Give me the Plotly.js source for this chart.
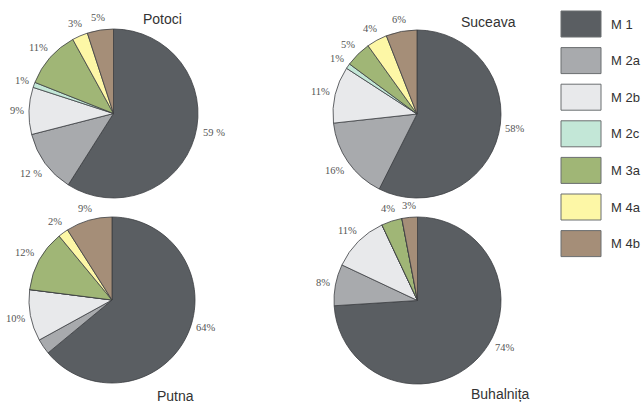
<!DOCTYPE html>
<html>
<head>
<meta charset="utf-8">
<script src="https://cdn.plot.ly/plotly-3.0.1.min.js"></script>
<style>
  html, body { margin: 0; padding: 0; background: #ffffff; }
  #chart { width: 642px; height: 404px; }
</style>
</head>
<body>
<div id="chart"></div>
<script>
// Morphotype categories and their fill colours
const categories = ['M 1', 'M 2a', 'M 2b', 'M 2c', 'M 3a', 'M 4a', 'M 4b'];
const colors = ['#5a5e62', '#a8aaad', '#e8e9eb', '#c3e7d7', '#a0b676', '#fdf7a6', '#a58e78'];

// Percentage shares per site (order follows categories)
const potoci    = [59, 12, 9, 1, 11, 3, 5];
const suceava   = [58, 16, 11, 1, 5, 4, 6];
const putna     = [64, 3, 10, 0, 12, 2, 9];
const buhalnita = [74, 8, 11, 0, 4, 0, 3];

// Which slices carry a percentage label
const potociShow    = [1, 1, 1, 1, 1, 1, 1];
const suceavaShow   = [1, 1, 1, 1, 1, 1, 1];
const putnaShow     = [1, 0, 1, 0, 1, 1, 1];
const buhalnitaShow = [1, 1, 1, 0, 1, 0, 1];

// Potoci's two largest labels are typeset with a space before the sign
const potociSep = [' ', ' ', '', '', '', '', ''];

const siteNames = ['Potoci', 'Suceava', 'Putna', 'Buhalni\u021Ba'];

function labelsFor(vals, show, sep) {
  return vals.map((v, i) => (show[i] && v > 0) ? v + ((sep && sep[i]) || '') + '%' : '');
}

const W = 642, H = 404;
// pie boxes in pixels: [left, top, size]
const boxes = [
  [29, 29, 169],
  [333, 30, 168],
  [29, 217, 166],
  [334, 217, 167]
];

function domainOf(b) {
  const [l, t, s] = b;
  return { x: [l / W, (l + s) / W], y: [1 - (t + s) / H, 1 - t / H] };
}

const series = [
  [potoci, potociShow, potociSep],
  [suceava, suceavaShow, null],
  [putna, putnaShow, null],
  [buhalnita, buhalnitaShow, null]
];

const traces = series.map((s, k) => ({
  type: 'pie',
  labels: categories,
  values: s[0],
  textinfo: 'none',
  sort: false,
  direction: 'clockwise',
  rotation: 0,
  hole: 0,
  marker: { colors: colors, line: { color: '#3c3f42', width: 0.8 } },
  domain: domainOf(boxes[k]),
  showlegend: false,
  hoverinfo: 'label+percent'
}));

const annotations = [];

// Percentage labels set just outside each slice, along its mid-angle;
// labels on the right-hand side are drawn in toward the horizontal midline
const labelFont = { family: 'Liberation Serif, Times New Roman, serif', size: 10.5, color: '#555555' };
series.forEach((s, k) => {
  const vals = s[0];
  const texts = labelsFor(vals, s[1], s[2]);
  const total = vals.reduce((a, b) => a + b, 0);
  const [l, t, size] = boxes[k];
  const cx = l + size / 2, cy = t + size / 2, r = size / 2;
  let cum = 0;
  vals.forEach((v, i) => {
    let mid = 2 * Math.PI * (cum + v / 2) / total;
    cum += v;
    if (!texts[i]) return;
    if (Math.sin(mid) > 0) mid = Math.PI / 2 + (mid - Math.PI / 2) * 0.65;
    const sx = Math.sin(mid), sy = -Math.cos(mid);
    const halfW = texts[i].length * 2.7, halfH = 5.5;
    const d = r + 6 + halfW * Math.abs(sx) + halfH * Math.abs(sy);
    annotations.push({
      text: texts[i], xref: 'paper', yref: 'paper',
      x: (cx + d * sx) / W, y: 1 - (cy + d * sy) / H,
      xanchor: 'center', yanchor: 'middle', showarrow: false,
      font: labelFont
    });
  });
});

// Site titles
const titlePos = [[163, 19], [488, 22], [176, 396], [500, 394]];
siteNames.forEach((n, k) => annotations.push({
  text: n, xref: 'paper', yref: 'paper',
  x: titlePos[k][0] / W, y: 1 - titlePos[k][1] / H,
  xanchor: 'center', yanchor: 'middle', showarrow: false,
  font: { family: 'Liberation Sans, Arial, sans-serif', size: 14, color: '#333333' }
}));

// Legend drawn as swatches with labels on the right
const shapes = [];
const legLeft = 561, legW = 40, legH = 26, legTop0 = 11, legStep = 36.6;
categories.forEach((c, i) => {
  const top = legTop0 + i * legStep;
  shapes.push({
    type: 'rect', xref: 'paper', yref: 'paper',
    x0: legLeft / W, x1: (legLeft + legW) / W,
    y0: 1 - (top + legH) / H, y1: 1 - top / H,
    fillcolor: colors[i], line: { color: '#6b6e70', width: 1 }
  });
  annotations.push({
    text: c, xref: 'paper', yref: 'paper',
    x: (legLeft + legW + 8) / W, y: 1 - (top + legH / 2) / H,
    xanchor: 'left', yanchor: 'middle', showarrow: false,
    font: { family: 'Liberation Sans, Arial, sans-serif', size: 13, color: '#333333' }
  });
});

const layout = {
  width: W, height: H,
  margin: { l: 0, r: 0, t: 0, b: 0 },
  paper_bgcolor: '#ffffff',
  showlegend: false,
  annotations: annotations,
  shapes: shapes
};

Plotly.newPlot('chart', traces, layout, { displayModeBar: false, staticPlot: true });
</script>
</body>
</html>
